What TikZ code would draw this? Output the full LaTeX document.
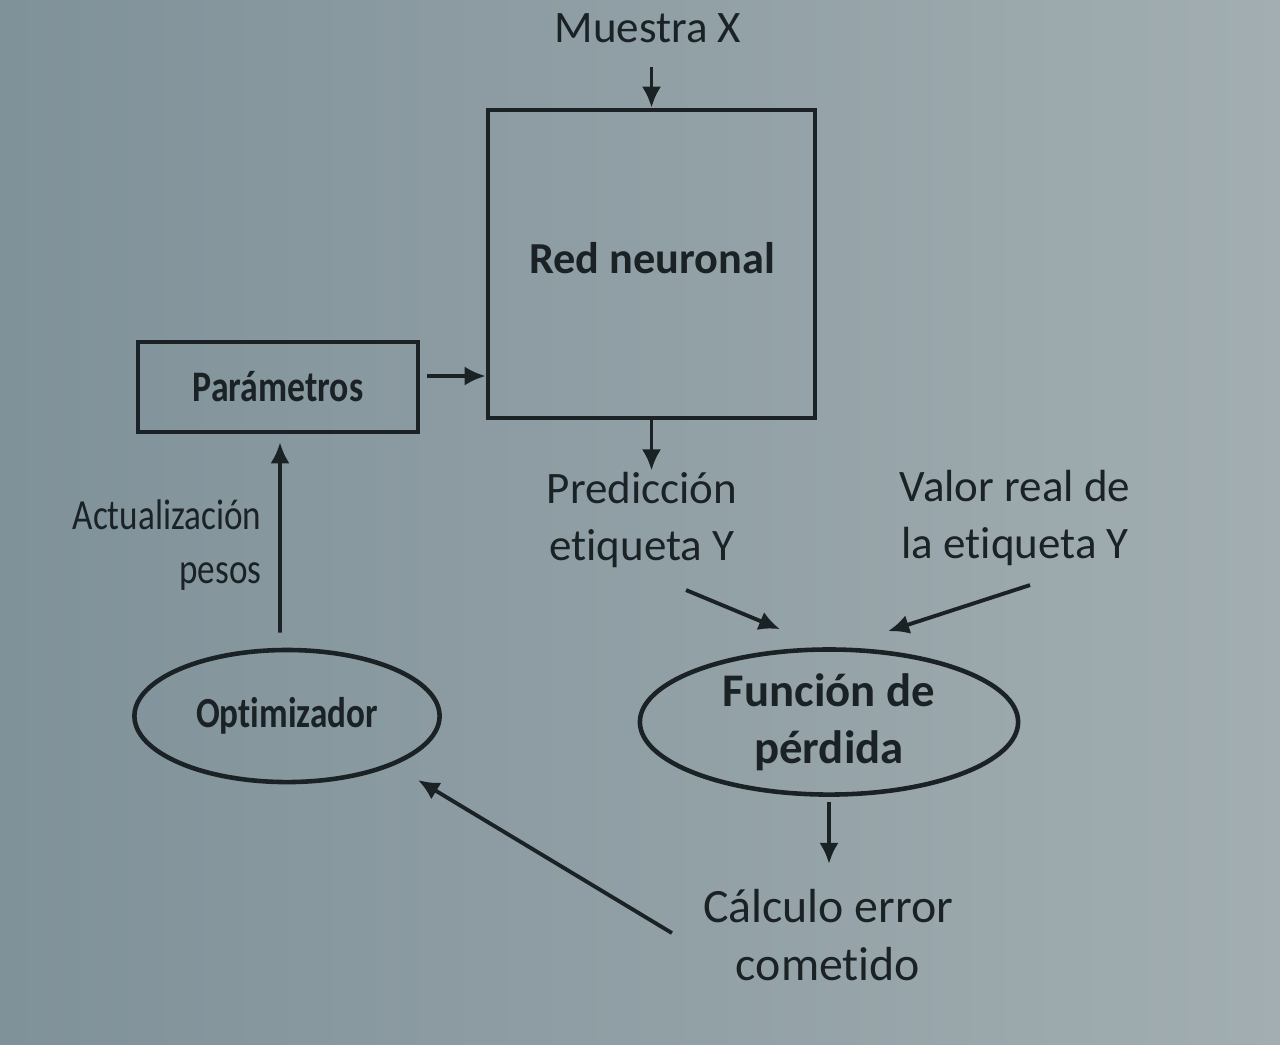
\documentclass[tikz,border=0pt]{standalone}
\usepackage{fontspec}
\setmainfont[Ligatures=NoCommon]{Carlito}
\newfontfamily\condfont[FakeStretch=0.82,Ligatures=NoCommon]{Carlito}
\usetikzlibrary{shapes.geometric,arrows.meta}
\definecolor{bgL}{HTML}{7F9199}
\definecolor{bgR}{HTML}{A2AEB1}
\definecolor{ink}{HTML}{1A2226}
\tikzset{
  arr/.style={draw=ink, line width=1.1pt, -{Latex[length=6pt,width=5.5pt]}},
  boxnode/.style={draw=ink, line width=1.3pt, rectangle, inner sep=0pt},
  ellnode/.style={draw=ink, line width=1.3pt, ellipse, inner sep=0pt},
  txt/.style={text=ink, align=center, font=\fontsize{12.8}{16}\selectfont},
}
\begin{document}
\begin{tikzpicture}[x=0.01cm,y=-0.01cm]
\shade[left color=bgL, right color=bgR] (0,0) rectangle (1280,1044);
\useasboundingbox (0,0) rectangle (1280,1044);

\node[txt] (muestra) at (648,28) {Muestra X};
\node[boxnode, minimum width=3.27cm, minimum height=3.08cm] (red) at (651.5,264) {};
\node[txt, font=\bfseries\fontsize{12.6}{15}\selectfont] (redt) at (652,258) {Red neuronal};
\node[boxnode, minimum width=2.8cm, minimum height=0.9cm, font=\condfont\bfseries\fontsize{12.4}{15}\selectfont, text=ink] (param) at (278,387) {Parámetros};
\node[txt] (pred) at (642,520) {Predicción\\etiqueta Y};
\node[txt] (valor) at (1015,518) {Valor real de\\la etiqueta Y};
\node[ellnode, minimum width=3.78cm, minimum height=1.45cm, text=ink, align=center, font=\bfseries\fontsize{13.3}{16.3}\selectfont] (func) at (829,722) {Función de\\pérdida};
\node[txt, font=\fontsize{13.6}{16.5}\selectfont] (calc) at (828,935) {Cálculo error\\cometido};
\node[ellnode, minimum width=3.05cm, minimum height=1.32cm, text=ink, font=\condfont\bfseries\fontsize{12.2}{15}\selectfont] (optim) at (287,716) {Optimizador};
\node[text=ink, align=right, font=\condfont\fontsize{12.2}{15.5}\selectfont] (actual) at (167,545) {Actualización\\pesos};

\draw[arr] ([yshift=-0.12cm]red.north |- muestra.south) -- (red.north);
\draw[arr] ([xshift=0.07cm,yshift=0.11cm]param.east) -- ([yshift=0.11cm]param.east -| red.west);
\draw[arr] (red.south) -- ([yshift=-0.5cm]red.south);
\draw[arr] ([xshift=0.44cm,yshift=-0.70cm]pred.center) -- ([xshift=-0.49cm,yshift=0.18cm]func.north);
\draw[arr] ([xshift=0.15cm,yshift=-0.67cm]valor.center) -- ([xshift=0.59cm,yshift=0.16cm]func.north);
\draw[arr] ([yshift=-0.05cm]func.south) -- ([yshift=-0.67cm]func.south);
\draw[arr] ([xshift=-1.56cm,yshift=0.02cm]calc.center) -- ([xshift=1.31cm,yshift=-0.64cm]optim.center);
\draw[arr] ([xshift=-0.07cm,yshift=0.15cm]optim.north) -- ([xshift=0.02cm,yshift=-0.08cm]param.south);
\end{tikzpicture}
\end{document}
